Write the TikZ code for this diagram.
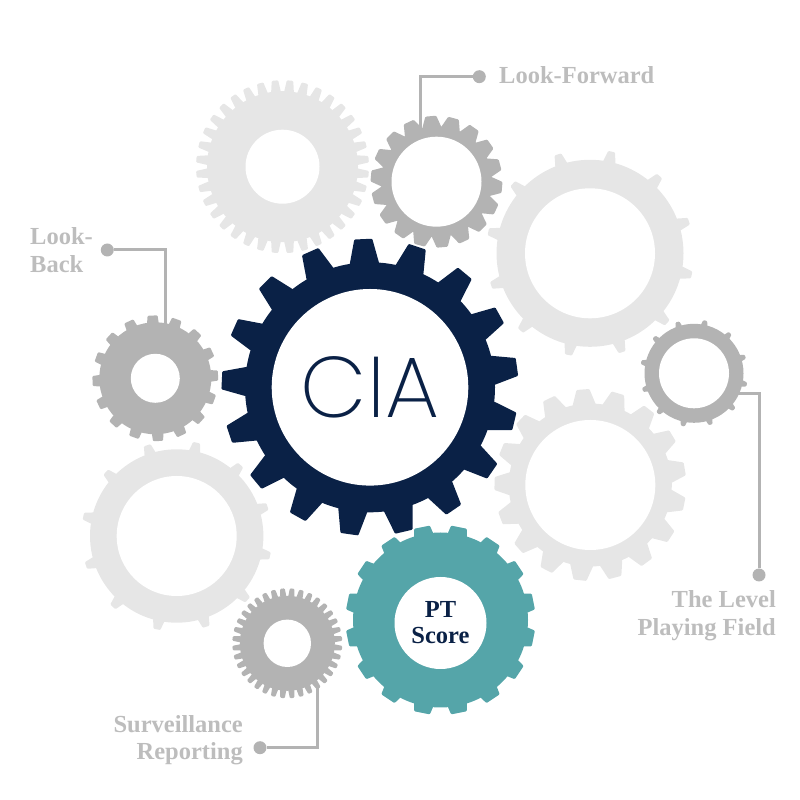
\documentclass[tikz,border=0pt]{standalone}
\usepackage{fontspec}
\setmainfont{Liberation Serif}
\newfontfamily\ciafont[UprightFont=* ExtraLight]{Poppins}
\usetikzlibrary{calc}

\definecolor{navygear}{HTML}{0A2146}
\definecolor{tealgear}{HTML}{55A5A9}
\definecolor{greygear}{HTML}{B3B3B3}
\definecolor{palegear}{HTML}{E6E6E6}
\definecolor{labelgrey}{HTML}{BDBDBD}

\tikzset{
    hole/.style={circle, fill=white, inner sep=0pt, align=center},
    wire/.style={draw=greygear, line width=3pt},
    pin/.style={circle, fill=greygear, inner sep=0pt, minimum size=13pt},
    gearlabel/.style={text=labelgrey, font=\fontsize{24.5}{27.5}\selectfont\bfseries, inner sep=0pt}
}

% colour, x, y, tip radius, root radius, teeth, phase, tip width, base width
\newcommand{\gear}[9]{
    \begin{scope}[shift={(#2,#3)}]
	\fill[#1] (0,0) circle (#5);
	\foreach \k in {1,...,#6} {
	    \pgfmathsetmacro{\ang}{#7+\k*360/#6}
	    \pgfmathsetmacro{\tw}{#8/2/#4*57.3}
	    \pgfmathsetmacro{\bw}{#9/2/#5*57.3}
	    \fill[#1, rounded corners=1pt] (\ang-\bw:#5-1) -- (\ang-\tw:#4) -- (\ang+\tw:#4) -- (\ang+\bw:#5-1) -- cycle;
	}
    \end{scope}
}

\begin{document}
\begin{tikzpicture}[x=1pt, y=1pt]
    \useasboundingbox (0,0) rectangle (800,800);

    % connectors first, the gears sit on top
    \node[pin] (pinforward) at (479.3,723.3) {};
    \node[pin] (pinback) at (107.3,550) {};
    \node[pin] (pinsurv) at (260,52.3) {};
    \node[pin] (pinfield) at (759,225) {};
    \coordinate (endforward) at (420.7,670);
    \coordinate (endback) at (165.7,475);
    \coordinate (endsurv) at (317.7,115);
    \coordinate (endfield) at (738,406.7);
    \draw[wire] (pinforward) -| (endforward);
    \draw[wire] (pinback) -| (endback);
    \draw[wire] (pinsurv) -| (endsurv);
    \draw[wire] (pinfield) |- (endfield);

    % pale gears
    \gear{palegear}{282.5}{633.3}{86.5}{75.5}{36}{95}{6.5}{10}
    \node[hole, minimum size=74pt] (holetop) at (282.5,633.3) {};
    \gear{palegear}{590}{546.7}{104}{93.5}{12}{18}{7}{13}
    \node[hole, minimum size=130pt] (holeright) at (590,546.7) {};
    \gear{palegear}{176.7}{264}{95.5}{86.7}{12}{18}{7}{12}
    \node[hole, minimum size=120pt] (holeleft) at (176.7,264) {};
    \gear{palegear}{590.3}{315}{96}{81.5}{17}{94.4}{13}{24}
    \node[hole, minimum size=130pt] (holelower) at (590.3,315) {};

    % grey gears
    \gear{greygear}{436.5}{618.3}{66}{55.5}{18}{95}{11}{20}
    \node[hole, minimum size=90pt] (holeforward) at (436.5,618.3) {};
    \gear{greygear}{155.3}{421.7}{63}{56}{16}{2.5}{10}{12}
    \node[hole, minimum size=49pt] (holeback) at (155.3,421.7) {};
    \gear{greygear}{694}{426.7}{54}{49.5}{12}{18}{4}{7}
    \node[hole, minimum size=70pt] (holefield) at (694,426.7) {};
    \gear{greygear}{287.3}{156.7}{55}{47.5}{36}{95}{4.5}{6.5}
    \node[hole, minimum size=47.4pt] (holesurv) at (287.3,156.7) {};

    % main gears
    \gear{navygear}{370}{412.7}{148.6}{125}{17}{92.6}{18}{30}
    \node[hole, minimum size=196.6pt, text=navygear, font=\ciafont\fontsize{86}{86}\selectfont] (cia) at (370,412.7) {CIA};
    \gear{tealgear}{440.5}{180}{95}{87.5}{16}{78.75}{16}{20}
    \node[hole, minimum size=92pt, text=navygear, font=\fontsize{24.5}{26}\selectfont\bfseries] (ptscore) at (440.5,177) {PT\\Score};

    % labels
    \node[gearlabel, anchor=west] (lblforward) at (499,725) {Look-Forward};
    \node[gearlabel, anchor=north west, align=left] (lblback) at (30,572.5) {Look-\\Back};
    \node[gearlabel, anchor=north east, align=right] (lblsurv) at (243,85) {Surveillance\\Reporting};
    \node[gearlabel, anchor=north east, align=right] (lblfield) at (776,209.5) {The Level\\Playing Field};
\end{tikzpicture}
\end{document}
